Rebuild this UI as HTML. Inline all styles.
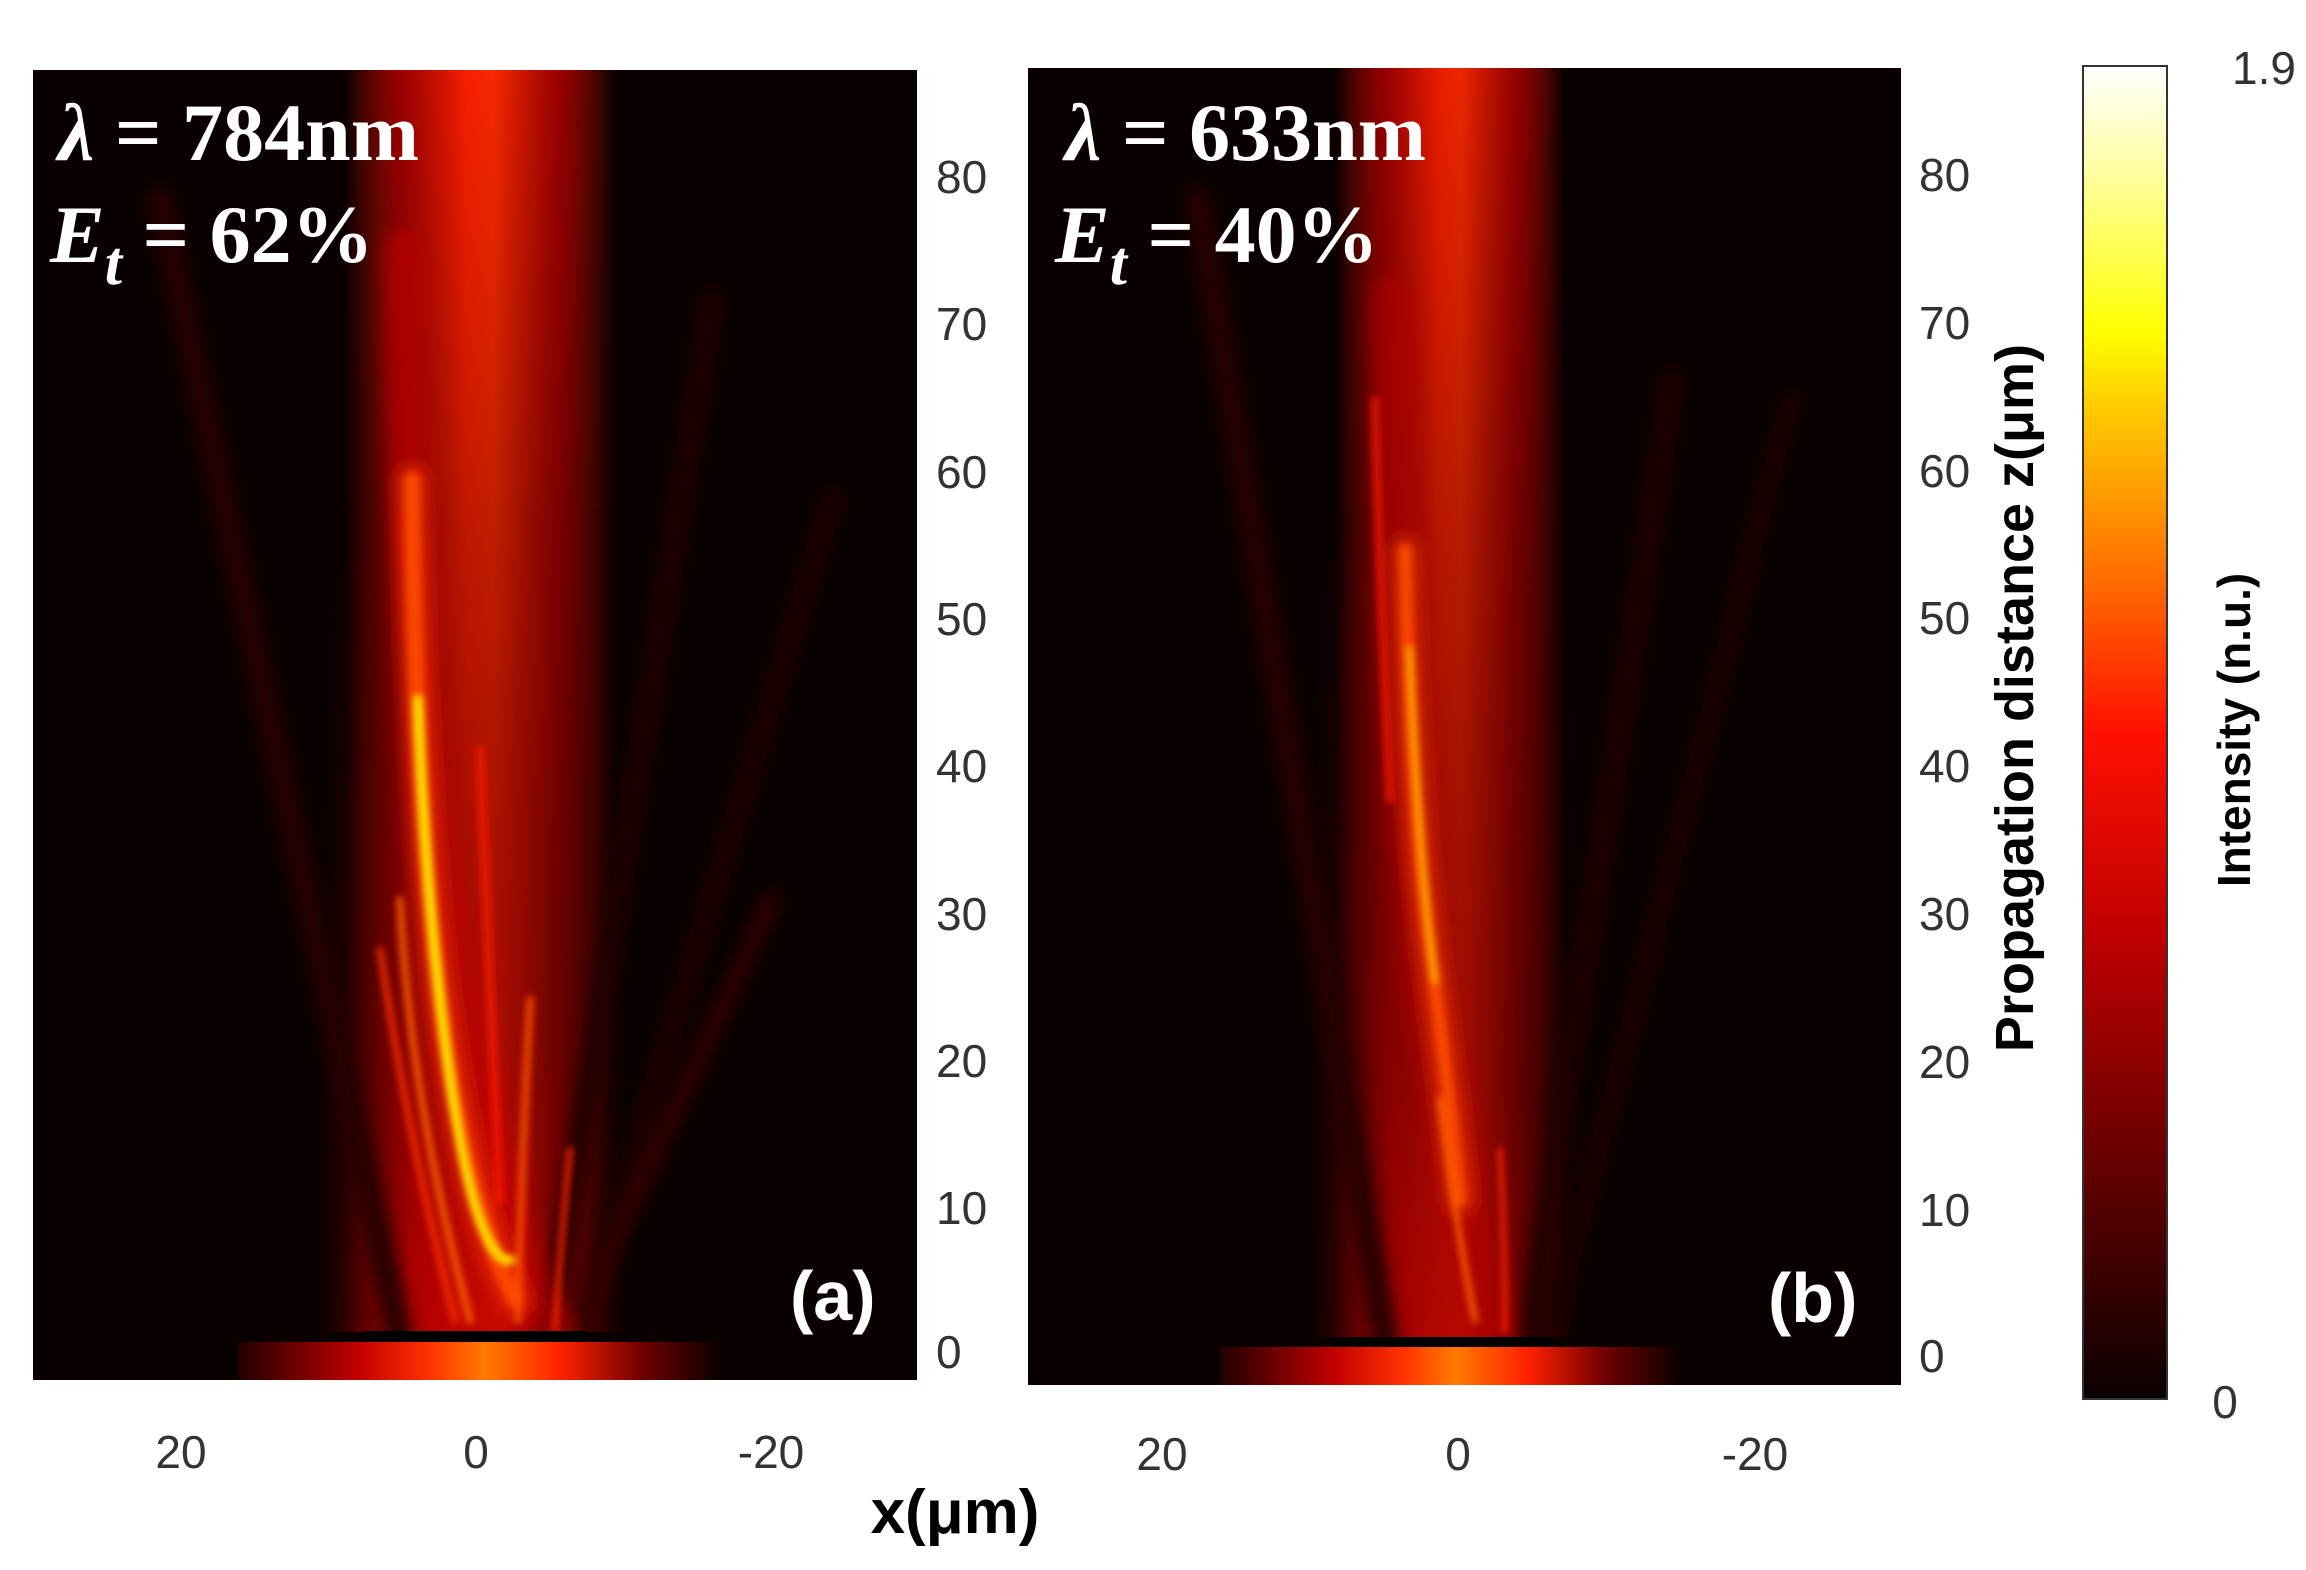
<!DOCTYPE html>
<html><head><meta charset="utf-8"><style>
html,body{margin:0;padding:0;background:#fff;}
svg{display:block;}
.s{font-family:"Liberation Sans",sans-serif;}
.t{font-family:"Liberation Serif",serif;font-weight:bold;}
</style></head><body>
<svg width="2306" height="1570" viewBox="0 0 2306 1570" xmlns="http://www.w3.org/2000/svg">
<defs>
<filter id="b8" filterUnits="userSpaceOnUse" x="0" y="0" width="2306" height="1570"><feGaussianBlur stdDeviation="8"/></filter>
<filter id="b4" filterUnits="userSpaceOnUse" x="0" y="0" width="2306" height="1570"><feGaussianBlur stdDeviation="3.5"/></filter>
<linearGradient id="cb" x1="0" y1="1" x2="0" y2="0">
<stop offset="0" stop-color="#0a0000"/><stop offset="0.35" stop-color="#c00000"/><stop offset="0.5" stop-color="#ff1000"/>
<stop offset="0.62" stop-color="#ff7000"/><stop offset="0.75" stop-color="#ffd000"/><stop offset="0.8" stop-color="#ffff00"/>
<stop offset="0.92" stop-color="#ffffa0"/><stop offset="1" stop-color="#ffffff"/></linearGradient>
<linearGradient id="bar" x1="0" x2="1">
<stop offset="0" stop-color="#200000"/><stop offset="0.25" stop-color="#c00000"/><stop offset="0.4" stop-color="#ff3000"/>
<stop offset="0.52" stop-color="#ff7a00"/><stop offset="0.68" stop-color="#ff2000"/><stop offset="0.85" stop-color="#700000"/><stop offset="1" stop-color="#150000"/></linearGradient>
<linearGradient id="band" x1="0" x2="1">
<stop offset="0" stop-color="#ff1800" stop-opacity="0"/><stop offset="0.2" stop-color="#c00000" stop-opacity="0.8"/>
<stop offset="0.45" stop-color="#ff2000"/><stop offset="0.55" stop-color="#ff2a00"/><stop offset="0.8" stop-color="#c00000" stop-opacity="0.8"/>
<stop offset="1" stop-color="#ff1800" stop-opacity="0"/></linearGradient>
<linearGradient id="vfade" x1="0" y1="0" x2="0" y2="1">
<stop offset="0" stop-color="#fff"/><stop offset="0.4" stop-color="#fff" stop-opacity="0.7"/><stop offset="0.7" stop-color="#fff" stop-opacity="0.4"/><stop offset="1" stop-color="#fff" stop-opacity="0.4"/></linearGradient>
<mask id="ma" maskUnits="userSpaceOnUse" x="0" y="0" width="2306" height="1570"><rect x="0" y="0" width="2306" height="1570" fill="url(#vfade)"/></mask>
<linearGradient id="fan" x1="0" x2="1">
<stop offset="0" stop-color="#b00000" stop-opacity="0"/><stop offset="0.3" stop-color="#d00000" stop-opacity="0.8"/>
<stop offset="0.6" stop-color="#e00800" stop-opacity="0.8"/><stop offset="1" stop-color="#900000" stop-opacity="0"/></linearGradient>
<linearGradient id="fanv" x1="0" y1="0" x2="0" y2="1">
<stop offset="0" stop-color="#fff" stop-opacity="0"/><stop offset="0.6" stop-color="#fff" stop-opacity="0.6"/><stop offset="1" stop-color="#fff"/></linearGradient>
<mask id="mf" maskUnits="userSpaceOnUse" x="0" y="0" width="2306" height="1570"><rect x="0" y="500" width="2306" height="850" fill="url(#fanv)"/></mask>
<clipPath id="ca"><rect x="33" y="70" width="884" height="1262"/></clipPath>
<clipPath id="cbp"><rect x="1028" y="68" width="873" height="1269"/></clipPath>
</defs>

<!-- Panel a -->
<rect x="33" y="70" width="884" height="1310" fill="#0a0000"/>
<g clip-path="url(#ca)">
 <rect x="345" y="60" width="270" height="1290" fill="url(#band)" mask="url(#ma)"/>
 <rect x="320" y="500" width="310" height="850" fill="url(#fan)" mask="url(#mf)"/>
 <g fill="none" stroke-linecap="round" filter="url(#b8)">
  <path d="M160 200 L400 1340" stroke="#250000" stroke-width="26"/>
  <path d="M712 300 L548 1340" stroke="#220000" stroke-width="22"/>
  <path d="M832 500 L578 1340" stroke="#1e0000" stroke-width="22"/>
  <path d="M772 900 L570 1340" stroke="#300000" stroke-width="18"/>
  <path d="M405 250 Q405 700 460 1000 T555 1330" stroke="#c00000" stroke-width="40" opacity="0.6"/>
  <path d="M412 480 Q415 800 440 1000 T515 1300" stroke="#ff3000" stroke-width="30" opacity="0.6"/>
 </g>
 <g fill="none" stroke-linecap="round" filter="url(#b4)">
  <path d="M412 480 Q415 800 440 1000 T515 1300" stroke="#ff5000" stroke-width="16" opacity="0.8"/>
  <path d="M418 700 Q425 900 450 1080 T510 1260" stroke="#ffe000" stroke-width="9"/>
  <path d="M400 900 Q410 1100 470 1320" stroke="#ff6000" stroke-width="8" opacity="0.8"/>
  <path d="M380 950 Q410 1150 455 1320" stroke="#ff3000" stroke-width="7" opacity="0.8"/>
  <path d="M530 1000 Q520 1200 518 1320" stroke="#ff5000" stroke-width="8" opacity="0.8"/>
  <path d="M570 1150 Q560 1250 555 1330" stroke="#ff2000" stroke-width="7" opacity="0.8"/>
  <path d="M480 750 Q490 1000 500 1200" stroke="#ff1a00" stroke-width="9" opacity="0.7"/>
 </g>
</g>
<rect x="363" y="1331" width="222" height="10" fill="#000"/>
<rect x="238" y="1342" width="475" height="38" fill="url(#bar)"/>

<!-- Panel b -->
<rect x="1028" y="68" width="873" height="1317" fill="#0a0000"/>
<g clip-path="url(#cbp)">
 <rect x="1335" y="60" width="230" height="1290" fill="url(#band)" mask="url(#ma)" opacity="0.95"/>
 <rect x="1310" y="500" width="270" height="850" fill="url(#fan)" mask="url(#mf)" opacity="0.85"/>
 <g fill="none" stroke-linecap="round" filter="url(#b8)">
  <path d="M1672 380 L1528 1340" stroke="#220000" stroke-width="22"/>
  <path d="M1790 400 L1550 1340" stroke="#1e0000" stroke-width="18"/>
  <path d="M1198 200 L1385 1340" stroke="#250000" stroke-width="26"/>
  <path d="M1395 300 Q1400 800 1440 1050 T1490 1330" stroke="#b00000" stroke-width="45" opacity="0.6"/>
  <path d="M1405 550 Q1410 800 1430 950 T1460 1200" stroke="#ff4000" stroke-width="24" opacity="0.6"/>
 </g>
 <g fill="none" stroke-linecap="round" filter="url(#b4)">
  <path d="M1405 550 Q1410 800 1430 950 T1460 1200" stroke="#ff5000" stroke-width="12" opacity="0.8"/>
  <path d="M1410 650 Q1418 850 1435 980" stroke="#ffa000" stroke-width="8" opacity="0.9"/>
  <path d="M1375 400 Q1380 600 1390 800" stroke="#ff2000" stroke-width="8" opacity="0.7"/>
  <path d="M1440 1100 Q1460 1250 1475 1320" stroke="#ff6000" stroke-width="7" opacity="0.8"/>
  <path d="M1500 1150 Q1505 1250 1505 1330" stroke="#ff2000" stroke-width="6" opacity="0.8"/>
 </g>
</g>
<rect x="1335" y="1337" width="217" height="9" fill="#000"/>
<rect x="1220" y="1347" width="453" height="38" fill="url(#bar)"/>

<!-- Titles -->
<g fill="#fff" class="t">
<text x="58" y="160" font-size="82"><tspan font-style="italic">λ</tspan> = 784nm</text>
<text x="50" y="262" font-size="82"><tspan font-style="italic">E</tspan><tspan font-style="italic" font-size="62" dy="22">t</tspan><tspan dy="-22"> = 62%</tspan></text>
<text x="1065" y="160" font-size="82"><tspan font-style="italic">λ</tspan> = 633nm</text>
<text x="1055" y="262" font-size="82"><tspan font-style="italic">E</tspan><tspan font-style="italic" font-size="62" dy="22">t</tspan><tspan dy="-22"> = 40%</tspan></text>
</g>
<g fill="#fff" font-weight="bold" font-size="70" class="s">
<text x="790" y="1320">(a)</text>
<text x="1768" y="1322">(b)</text>
</g>

<!-- y ticks -->
<g fill="#333" font-size="46" class="s">
<text x="936" y="193">80</text><text x="936" y="340">70</text><text x="936" y="488">60</text>
<text x="936" y="635">50</text><text x="936" y="782">40</text><text x="936" y="930">30</text>
<text x="936" y="1077">20</text><text x="936" y="1224">10</text><text x="936" y="1368">0</text>
<text x="1919" y="191">80</text><text x="1919" y="339">70</text><text x="1919" y="487">60</text>
<text x="1919" y="634">50</text><text x="1919" y="782">40</text><text x="1919" y="930">30</text>
<text x="1919" y="1078">20</text><text x="1919" y="1226">10</text><text x="1919" y="1372">0</text>
</g>
<g fill="#333" font-size="46" text-anchor="middle" class="s">
<text x="181" y="1468">20</text><text x="476" y="1468">0</text><text x="771" y="1468">-20</text>
<text x="1162" y="1470">20</text><text x="1458" y="1470">0</text><text x="1755" y="1470">-20</text>
<text x="2232" y="84" text-anchor="start">1.9</text><text x="2225" y="1418">0</text>
</g>
<text x="955" y="1533" font-size="62" font-weight="bold" text-anchor="middle" fill="#000" class="s">x(μm)</text>
<text transform="translate(2033,698) rotate(-90)" font-size="54" font-weight="bold" text-anchor="middle" fill="#000" class="s">Propagation distance z(μm)</text>
<text transform="translate(2250,730) rotate(-90)" font-size="46" font-weight="bold" text-anchor="middle" fill="#000" class="s">Intensity (n.u.)</text>

<!-- colorbar -->
<rect x="2083" y="66" width="84" height="1333" fill="url(#cb)" stroke="#333" stroke-width="2"/>
</svg>
</body></html>
